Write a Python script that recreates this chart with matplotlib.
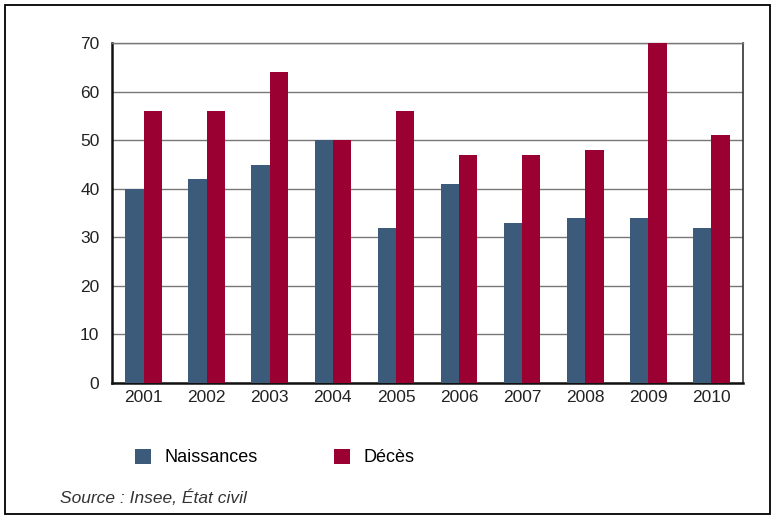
import numpy as np
import matplotlib.pyplot as plt
from matplotlib.patches import Rectangle

plt.rcParams['font.family'] = ['Liberation Sans', 'DejaVu Sans']

years = ['2001', '2002', '2003', '2004', '2005', '2006', '2007', '2008', '2009', '2010']
naissances = [40, 42, 45, 50, 32, 41, 33, 34, 34, 32]
deces = [56, 56, 64, 50, 56, 47, 47, 48, 70, 51]

col_n = '#3c5a79'
col_d = '#9a0032'

fig = plt.figure(figsize=(7.75, 5.2), dpi=100)
ax = fig.add_axes([0.1445, 0.2635, 0.8142, 0.6535])

x = np.arange(len(years))
w = 0.29
b1 = ax.bar(x - w / 2, naissances, w, color=col_n, label='Naissances', zorder=3)
b2 = ax.bar(x + w / 2, deces, w, color=col_d, label='Décès', zorder=3)

ax.set_xlim(-0.5, len(years) - 0.5)
ax.set_ylim(0, 70)
ax.set_yticks(range(0, 71, 10))
ax.set_xticks(x)
ax.set_xticklabels(years)
ax.tick_params(axis='both', length=0, labelsize=12.5, colors='#222222')
ax.tick_params(axis='y', pad=9)
ax.tick_params(axis='x', pad=5)
ax.yaxis.grid(True, color='#777777', lw=1, zorder=0)

for s in ['left', 'bottom']:
    ax.spines[s].set_color('#111111')
    ax.spines[s].set_linewidth(1.8)
ax.spines['right'].set_color('#333333')
ax.spines['right'].set_linewidth(1.2)
ax.spines['top'].set_color('#777777')
ax.spines['top'].set_linewidth(1)

fig.legend(handles=[b1, b2], loc='center left', bbox_to_anchor=(0.153, 0.12),
           ncol=2, frameon=False, fontsize=13, handlelength=0.9, handleheight=0.9,
           handletextpad=0.75, columnspacing=4.2)

fig.text(0.077, 0.043, 'Source : Insee, État civil', fontsize=12.5, style='italic',
         color='#333333', va='center')

fig.patches.append(Rectangle((0.007, 0.012), 0.986, 0.978, transform=fig.transFigure,
                             fill=False, edgecolor='black', lw=1.3))

fig.savefig('out.png', dpi=100)
